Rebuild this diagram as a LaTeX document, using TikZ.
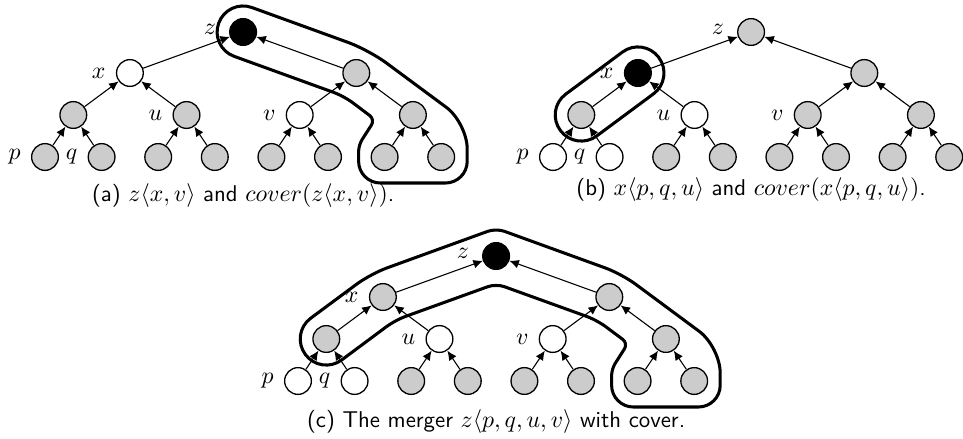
\documentclass[tikz,border=0pt]{standalone}
\usetikzlibrary{positioning,arrows.meta}
\tikzset{
  tnode/.style={circle,draw,line width=0.6pt,minimum size=12.3pt,inner sep=0pt},
  gnode/.style={tnode,fill=black!20},
  wnode/.style={tnode,fill=white},
  bnode/.style={tnode,fill=black},
  every label/.style={font=\fontsize{10.5}{12}\selectfont},
  lbl/.style={label distance=1.2pt},
  zlbl/.style={label distance=2.5pt,yshift=1.2pt},
  edge/.style={-{Latex[length=4.4pt,width=4pt]},line width=0.5pt},
  cover/.style={line width=1.4pt,rounded corners=8pt},
  caption/.style={font=\sffamily\fontsize{10.5}{12}\selectfont}
}

\begin{document}
\begin{tikzpicture}[x=0.46pt,y=-0.46pt]
\useasboundingbox (0,0) rectangle (963,438);

% (a) the tree with z<x,v>
\node[bnode,label={[zlbl]left:$z$}] (aZ) at (243.1,32) {};
\node[wnode,label={[lbl]left:$x$}] (aX) at (129.9,73) {};
\node[gnode] (aW) at (356.3,73) {};
\node[gnode] (aS) at (73.3,115) {};
\node[gnode,label={[lbl]left:$u$}] (aU) at (186.5,115) {};
\node[wnode,label={[lbl]left:$v$}] (aV) at (299.7,115) {};
\node[gnode] (aT) at (412.9,115) {};
\node[gnode,label={[lbl]left:$p$}] (aP) at (45,157) {};
\node[gnode,label={[lbl]left:$q$}] (aQ) at (101.6,157) {};
\node[gnode] (aU1) at (158.2,157) {};
\node[gnode] (aU2) at (214.8,157) {};
\node[gnode] (aV1) at (271.4,157) {};
\node[gnode] (aV2) at (328,157) {};
\node[gnode] (aT1) at (384.6,157) {};
\node[gnode] (aT2) at (441.2,157) {};
\draw[edge] (aX) -- (aZ);
\draw[edge] (aW) -- (aZ);
\draw[edge] (aS) -- (aX);
\draw[edge] (aU) -- (aX);
\draw[edge] (aV) -- (aW);
\draw[edge] (aT) -- (aW);
\draw[edge] (aP) -- (aS);
\draw[edge] (aQ) -- (aS);
\draw[edge] (aU1) -- (aU);
\draw[edge] (aU2) -- (aU);
\draw[edge] (aV1) -- (aV);
\draw[edge] (aV2) -- (aV);
\draw[edge] (aT1) -- (aT);
\draw[edge] (aT2) -- (aT);
% cover of z<x,v>
\draw[cover] (298.2,24.3) [rounded corners=10pt] -- (368.7,49.9)
  [rounded corners=12pt] -- (467.2,122.8) [rounded corners=10pt] -- (467.2,183)
  -- (358.6,183) [rounded corners=3pt] -- (358.6,145) -- (375,119.5)
  [rounded corners=5pt] -- (343.9,96.1) [rounded corners=11.9pt] -- (209.8,47.5)
  -- (227.6,-1.3) -- cycle;
\node[caption] (capA) at (243.1,196)
  {(a) $z\langle x,v\rangle$ and $cover(z\langle x,v\rangle)$.};

% (b) the tree with x<p,q,u>
\node[gnode,label={[zlbl]left:$z$}] (bZ) at (751.1,32) {};
\node[bnode,label={[lbl]left:$x$}] (bX) at (637.9,73) {};
\node[gnode] (bW) at (864.3,73) {};
\node[gnode] (bS) at (581.3,115) {};
\node[wnode,label={[lbl]left:$u$}] (bU) at (694.5,115) {};
\node[gnode,label={[lbl]left:$v$}] (bV) at (807.7,115) {};
\node[gnode] (bT) at (920.9,115) {};
\node[wnode,label={[lbl]left:$p$}] (bP) at (553,157) {};
\node[wnode,label={[lbl]left:$q$}] (bQ) at (609.6,157) {};
\node[gnode] (bU1) at (666.2,157) {};
\node[gnode] (bU2) at (722.8,157) {};
\node[gnode] (bV1) at (779.4,157) {};
\node[gnode] (bV2) at (836,157) {};
\node[gnode] (bT1) at (892.6,157) {};
\node[gnode] (bT2) at (949.2,157) {};
\draw[edge] (bX) -- (bZ);
\draw[edge] (bW) -- (bZ);
\draw[edge] (bS) -- (bX);
\draw[edge] (bU) -- (bX);
\draw[edge] (bV) -- (bW);
\draw[edge] (bT) -- (bW);
\draw[edge] (bP) -- (bS);
\draw[edge] (bQ) -- (bS);
\draw[edge] (bU1) -- (bU);
\draw[edge] (bU2) -- (bU);
\draw[edge] (bV1) -- (bV);
\draw[edge] (bV2) -- (bV);
\draw[edge] (bT1) -- (bT);
\draw[edge] (bT2) -- (bT);
% cover of x<p,q,u>
\draw[cover,rounded corners=11.9pt] (594.1,73.1) -- (643.3,36.6) -- (674.3,78.4)
  -- (575.9,151.4) -- (544.9,109.6) -- cycle;
\node[caption] (capB) at (751.1,190)
  {(b) $x\langle p,q,u\rangle$ and $cover(x\langle p,q,u\rangle)$.};

% (c) the merged tree
\node[bnode,label={[zlbl]left:$z$}] (cZ) at (496.1,256) {};
\node[gnode,label={[lbl]left:$x$}] (cX) at (382.9,297) {};
\node[gnode] (cW) at (609.3,297) {};
\node[gnode] (cS) at (326.3,339) {};
\node[wnode,label={[lbl]left:$u$}] (cU) at (439.5,339) {};
\node[wnode,label={[lbl]left:$v$}] (cV) at (552.7,339) {};
\node[gnode] (cT) at (665.9,339) {};
\node[wnode,label={[lbl]left:$p$}] (cP) at (298,381) {};
\node[wnode,label={[lbl]left:$q$}] (cQ) at (354.6,381) {};
\node[gnode] (cU1) at (411.2,381) {};
\node[gnode] (cU2) at (467.8,381) {};
\node[gnode] (cV1) at (524.4,381) {};
\node[gnode] (cV2) at (581,381) {};
\node[gnode] (cT1) at (637.6,381) {};
\node[gnode] (cT2) at (694.2,381) {};
\draw[edge] (cX) -- (cZ);
\draw[edge] (cW) -- (cZ);
\draw[edge] (cS) -- (cX);
\draw[edge] (cU) -- (cX);
\draw[edge] (cV) -- (cW);
\draw[edge] (cT) -- (cW);
\draw[edge] (cP) -- (cS);
\draw[edge] (cQ) -- (cS);
\draw[edge] (cU1) -- (cU);
\draw[edge] (cU2) -- (cU);
\draw[edge] (cV1) -- (cV);
\draw[edge] (cV2) -- (cV);
\draw[edge] (cT1) -- (cT);
\draw[edge] (cT2) -- (cT);
% cover of the merger
\draw[cover] (433.3,251.1) [rounded corners=4pt] -- (496.1,228.3)
  [rounded corners=8pt] -- (621.7,273.9) [rounded corners=12pt] -- (720.2,346.9)
  [rounded corners=10pt] -- (720.2,407) -- (611.6,407) [rounded corners=3pt]
  -- (611.6,369) -- (628,343.3) [rounded corners=5pt] -- (596.9,320.1)
  [rounded corners=4pt] -- (496.1,283.7) [rounded corners=5pt] -- (395.3,320.1)
  [rounded corners=11.9pt] -- (320.9,375.4) -- (289.9,333.6)
  [rounded corners=8pt] -- (370.5,273.9) -- cycle;
\node[caption] (capC) at (496.1,422)
  {(c) The merger $z\langle p,q,u,v\rangle$ with cover.};
\end{tikzpicture}
\end{document}
